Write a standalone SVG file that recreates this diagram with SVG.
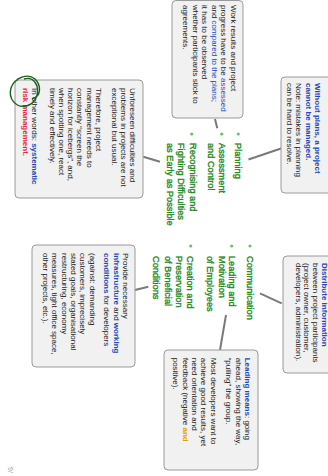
<svg xmlns="http://www.w3.org/2000/svg" width="328" height="476" viewBox="0 0 328 476">
<style>
.box{fill:#f1f1f1;stroke:#9a9a9a;stroke-width:1}
.t{font-family:"Liberation Sans",Arial,sans-serif;font-size:8px;fill:#222}
.b{fill:#2448b8;font-weight:bold}
.bl{fill:#2448b8}
.r{fill:#e8253f;font-weight:bold}
.o{fill:#e0a000;font-weight:bold}
.g{font-family:"Liberation Sans",Arial,sans-serif;font-size:9.2px;fill:#1e8a1e;stroke:#1e8a1e;stroke-width:0.35}
.dot{fill:#6cbf6c}
.c{stroke:#7a7a7a;stroke-width:2;fill:none}
</style>
<rect width="328" height="476" fill="#ffffff"/>
<g transform="translate(328,0) rotate(90)">
<g id="connectors">
<line class="c" x1="119" y1="113" x2="128.3" y2="110.7"/>
<line class="c" x1="148.3" y1="46.3" x2="159.5" y2="79.5"/>
<line class="c" x1="156.7" y1="184.7" x2="161.7" y2="168"/>
<line class="c" x1="293.3" y1="68" x2="303.3" y2="46.3"/>
<line class="c" x1="315" y1="102" x2="350" y2="108"/>
<line class="c" x1="290" y1="193" x2="286.7" y2="179.7"/>
</g>
<g id="assess-note">
<rect class="box" x="0.5" y="85" width="117.5" height="71" rx="4"/>
<text class="t" x="5"><tspan x="5" y="97">Work results and project</tspan><tspan x="5" y="106.6">progress have to be <tspan class="bl">assessed</tspan></tspan><tspan x="5" y="116.2">and <tspan class="bl">compared to the plans</tspan>;</tspan><tspan x="5" y="125.8">it has to be observed</tspan><tspan x="5" y="135.4">whether participants stick to</tspan><tspan x="5" y="145">agreements.</tspan></text>
</g>
<g id="plans-note">
<rect class="box" x="77" y="-6" width="116" height="53" rx="4"/>
<text class="t"><tspan x="83" y="13" class="b">Without plans, a project</tspan><tspan x="83" y="22.3" class="b">cannot be managed.</tspan><tspan x="83" y="31.6">Note: mistakes in planning</tspan><tspan x="83" y="41">can be hard to resolve.</tspan></text>
</g>
<g id="risk-note">
<rect class="box" x="80" y="185" width="118" height="128" rx="4"/>
<text class="t"><tspan x="88" y="197.7">Unforeseen difficulties and</tspan><tspan x="88" y="207">problems in projects are not</tspan><tspan x="88" y="216.3">exceptional but usual.</tspan><tspan x="88" y="232">Therefore, project</tspan><tspan x="88" y="241.3">management needs to</tspan><tspan x="88" y="250.6">constantly “screen the</tspan><tspan x="88" y="259.9">horizon for icebergs”, and,</tspan><tspan x="88" y="269.2">when spotting one, react</tspan><tspan x="88" y="278.5">timely and effectively.</tspan><tspan x="88" y="296">In other words: <tspan class="b">systematic</tspan></tspan><tspan x="88" y="305.3" class="r">risk management.</tspan></text>
<path d="M99,296 C96,286 85,287 79,293 C73,300 77,313 88,317 C99,320 108,312 106,302 C104,293 95,289 86,291 C80,293 77,298 79,304" fill="none" stroke="#1b5e20" stroke-width="1.4"/>
</g>
<g id="list-planning">
<circle class="dot" cx="134" cy="89.7" r="1.6"/>
<circle class="dot" cx="134" cy="106.3" r="1.6"/>
<circle class="dot" cx="134" cy="136.3" r="1.6"/>
<text class="g"><tspan x="143" y="93.2">Planning</tspan><tspan x="143" y="109.2">Assessment</tspan><tspan x="143" y="120.5">and Control</tspan><tspan x="143" y="138.2">Recognising and</tspan><tspan x="143" y="149.8">Fighting Difficulties</tspan><tspan x="143" y="161.5">as Early as Possible</tspan></text>
</g>
<g id="list-leading">
<circle class="dot" cx="246" cy="78" r="1.6"/>
<circle class="dot" cx="246" cy="96.3" r="1.6"/>
<circle class="dot" cx="246" cy="137.3" r="1.6"/>
<text class="g"><tspan x="256" y="81.5">Communication</tspan><tspan x="256" y="98.8">Leading and</tspan><tspan x="256" y="109.2">Motivation</tspan><tspan x="256" y="121.5">of Employees</tspan><tspan x="256" y="140.8">Creation and</tspan><tspan x="256" y="152.2">Preservation</tspan><tspan x="256" y="163.2">of Beneficial</tspan><tspan x="256" y="174.8">Conditions</tspan></text>
</g>
<g id="info-note">
<rect class="box" x="256" y="-6" width="117" height="51" rx="4"/>
<text class="t"><tspan x="263" y="6" class="b">Distribute information</tspan><tspan x="263" y="14.8">between project participants</tspan><tspan x="263" y="23.6">(project owner, customer,</tspan><tspan x="263" y="32.3">developers, administration).</tspan></text>
</g>
<g id="leading-note">
<rect class="box" x="350" y="70" width="120" height="94" rx="4"/>
<text class="t"><tspan x="357.7" y="83"><tspan class="b">Leading means</tspan>: going</tspan><tspan x="357.7" y="92.3">ahead, showing the way,</tspan><tspan x="357.7" y="101.6">“pulling” the group.</tspan><tspan x="357.7" y="117.5">Most developers want to</tspan><tspan x="357.7" y="126.8">achieve good results, yet</tspan><tspan x="357.7" y="136.1">need orientation and</tspan><tspan x="357.7" y="145.4">feedback (negative <tspan class="o">and</tspan></tspan><tspan x="357.7" y="154.7">positive).</tspan></text>
</g>
<g id="conditions-note">
<rect class="box" x="245" y="193" width="122" height="103" rx="4"/>
<text class="t"><tspan x="253" y="205">Provide necessary</tspan><tspan x="253" y="214.3"><tspan class="b">infrastructure</tspan> and <tspan class="b">working</tspan></tspan><tspan x="253" y="223.6"><tspan class="b">conditions</tspan> for developers</tspan><tspan x="253" y="238.5">(against: demanding</tspan><tspan x="253" y="247.8">customers, imprecisely</tspan><tspan x="253" y="257.1">stated goals, organisational</tspan><tspan x="253" y="266.4">restructuring, economy</tspan><tspan x="253" y="275.7">measures, tight office space,</tspan><tspan x="253" y="285">other projects, etc.).</tspan></text>
</g>
<text x="467" y="320" font-family="Liberation Sans,Arial,sans-serif" font-size="7" fill="#8a9aa8">9/</text>
</g>
</svg>
